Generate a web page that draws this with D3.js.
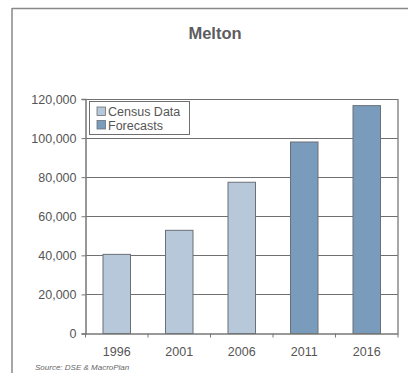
<!DOCTYPE html>
<html><head><meta charset="utf-8">
<script src="https://cdn.jsdelivr.net/npm/d3@7"></script>
<style>body{margin:0;background:#fff}svg{display:block}text{font-family:"Liberation Sans",Arial,sans-serif}</style>
</head><body><div id="c"></div>
<script>
const years = ["1996","2001","2006","2011","2016"];
const population = [40500, 52800, 77400, 98000, 116600];
const seriesType = ["Census Data","Census Data","Census Data","Forecasts","Forecasts"];
const legendLabels = ["Census Data","Forecasts"];
const yTicks = [0,20000,40000,60000,80000,100000,120000];
const colors = {"Census Data":"#b7c8da","Forecasts":"#7a9cbc"};

const W=408,H=373;
const svg=d3.select("#c").append("svg").attr("width",W).attr("height",H);
// outer frame
svg.append("line").attr("x1",12).attr("x2",W).attr("y1",8.5).attr("y2",8.5).attr("stroke","#888").attr("stroke-width",1.5);
svg.append("line").attr("x1",12).attr("x2",12).attr("y1",8).attr("y2",H).attr("stroke","#888").attr("stroke-width",1.5);

svg.append("text").attr("x",215).attr("y",38.5).attr("text-anchor","middle").attr("font-size",16.5).attr("font-weight","bold").attr("fill","#5c5c60").text("Melton");

const L=85.5,R=398,T=99,B=333.5;
const x=d3.scaleBand().domain(years).range([L,R]).paddingInner(0.56).paddingOuter(0.28);
const y=d3.scaleLinear().domain([0,120000]).range([B,T]);

// gridlines
svg.append("g").selectAll("line").data(yTicks.slice(1)).join("line")
 .attr("x1",L).attr("x2",R).attr("y1",d=>Math.round(y(d))+0.5).attr("y2",d=>Math.round(y(d))+0.5)
 .attr("stroke","#707070").attr("stroke-width",1);
// right border
svg.append("line").attr("x1",R).attr("x2",R).attr("y1",T).attr("y2",B).attr("stroke","#8a8a8a").attr("stroke-width",1.5);

// bars
svg.append("g").selectAll("rect").data(years).join("rect")
 .attr("x",d=>x(d)).attr("width",x.bandwidth())
 .attr("y",(d,i)=>y(population[i])).attr("height",(d,i)=>B-y(population[i]))
 .attr("fill",(d,i)=>colors[seriesType[i]]).attr("stroke","#6b6f76").attr("stroke-width",1);

// y axis
const ya=svg.append("g").attr("transform",`translate(${L},0)`)
 .call(d3.axisLeft(y).tickValues(yTicks).tickSize(4).tickPadding(5).tickFormat(d3.format(",")));
ya.select(".domain").attr("stroke","#777").attr("stroke-width",1.5);
ya.selectAll(".tick line").attr("stroke","#777");
ya.selectAll("text").attr("font-size",12.5).attr("fill","#555").style("font-family","'Liberation Sans',Arial,sans-serif");

// x axis
const xa=svg.append("g").attr("transform",`translate(0,${B})`)
 .call(d3.axisBottom(x).tickSize(0).tickPadding(14));
xa.select(".domain").attr("stroke","#777").attr("stroke-width",1.5);
xa.selectAll("text").attr("font-size",12.5).attr("fill","#555").style("font-family","'Liberation Sans',Arial,sans-serif");
// ticks between categories
const bounds=d3.range(years.length+1).map(i=>L+i*x.step());
svg.append("g").selectAll("line").data(bounds).join("line")
 .attr("x1",d=>d).attr("x2",d=>d).attr("y1",B).attr("y2",B+4).attr("stroke","#777");

// legend
const lg=svg.append("g").attr("transform","translate(89.5,101.5)");
lg.append("rect").attr("width",100).attr("height",33).attr("fill","#fff").attr("stroke","#6f6f6f").attr("stroke-width",1);
legendLabels.forEach((s,i)=>{
  const g=lg.append("g").attr("transform",`translate(7.5,${5.5+i*13.5})`);
  g.append("rect").attr("x",0).attr("y",0).attr("width",8.5).attr("height",8.5).attr("fill",colors[s]).attr("stroke","#6b6f76").attr("stroke-width",0.8);
  g.append("text").attr("x",11).attr("y",9).attr("font-size",12.5).attr("fill","#555").text(s);
});

svg.append("text").attr("x",35).attr("y",370).attr("font-size",8).attr("font-style","italic").attr("fill","#666").text("Source: DSE & MacroPlan");
</script></body></html>
